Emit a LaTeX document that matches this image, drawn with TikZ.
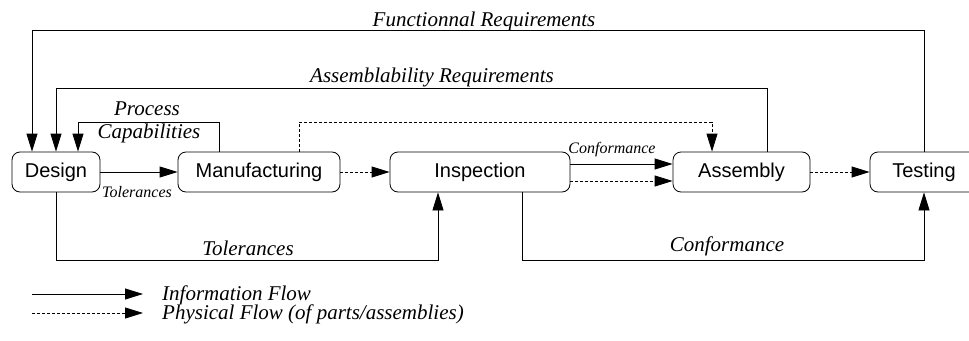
\documentclass[tikz,border=0pt]{standalone}
\usepackage{fontspec}
\setmainfont{Liberation Serif}
\setsansfont{Liberation Sans}
\usepackage{tikz}
\usetikzlibrary{arrows.meta}

\begin{document}
\begin{tikzpicture}[x=1pt,y=-1pt]
\tikzstyle{myBlock} =
[
	shape			= rectangle,		% shape
	rounded corners	= 8pt,				% roundness of the corners
	minimum height	= 40pt,				% height of the block
	line width		= 0.8pt,			% thickness of the border
	draw			= black,			% colour of the border
	font			= \fontsize{20}{23}\sffamily,	% used font
	inner sep		= 0pt				% text and borders
]
\tikzstyle{infoFlow} = [-{Triangle[length=18pt,width=11pt]}, line width = 0.8pt]
\tikzstyle{physFlow} = [infoFlow, dash pattern = on 3pt off 2pt]
\tikzstyle{myLabel} = [font = \fontsize{21}{24}\selectfont\itshape, inner sep = 0pt, anchor = base]
\tikzstyle{mySmallLabel} = [myLabel, font = \fontsize{16}{19}\selectfont\itshape]
\useasboundingbox (0,0) rectangle (969,340);
\node (design) [myBlock, minimum width = 88pt] at (56,172) {Design};
\node (manuf) [myBlock, minimum width = 162pt] at (259,172) {Manufacturing};
\node (insp) [myBlock, minimum width = 180pt] at (480,172) {Inspection};
\node (asm) [myBlock, minimum width = 137pt] at (741.5,172) {Assembly};
\node (testing) [myBlock, minimum width = 108pt] at (924,172) {Testing};
\coordinate (funcCorner) at (32,30);
\coordinate (assyCorner) at (56,88);
\coordinate (procCorner) at (78,122);
\coordinate (physCorner) at (712,122);
\coordinate (tolCorner) at (438,260);
\coordinate (confCorner) at (924,260);
\draw [infoFlow] (testing.north) |- (funcCorner) -- (funcCorner |- design.north);
\draw [infoFlow] ([xshift=26pt]asm.north) |- (assyCorner) -- (design.north);
\draw [infoFlow] ([xshift=-40pt]manuf.north) |- (procCorner) -- (procCorner |- design.north);
\draw [physFlow] ([xshift=40pt]manuf.north) |- (physCorner) -- (physCorner |- asm.north);
\draw [infoFlow] (design) -- (manuf);
\draw [physFlow] (manuf) -- (insp);
\draw [infoFlow] ([yshift=8pt]insp.east) -- ([yshift=8pt]asm.west);
\draw [physFlow] ([yshift=-9pt]insp.east) -- ([yshift=-9pt]asm.west);
\draw [physFlow] (asm) -- (testing);
\draw [infoFlow] (design.south) |- (tolCorner) -- (tolCorner |- insp.south);
\draw [infoFlow] ([xshift=42pt]insp.south) |- (confCorner) -- (testing.south);
\node (funcLabel) [myLabel] at (484,26) {Functionnal Requirements};
\node (assyLabel) [myLabel] at (432,82) {Assemblability Requirements};
\node (procLabel) [myLabel] at (147,115) {Process};
\node (capLabel) [myLabel] at (149,138) {Capabilities};
\node (tolSmall) [mySmallLabel] at (137,197) {Tolerances};
\node (confSmall) [mySmallLabel] at (612,153) {Conformance};
\node (tolLabel) [myLabel] at (248,255) {Tolerances};
\node (confLabel) [myLabel] at (727,251) {Conformance};
% legend
\coordinate (infoStart) at (32,294);
\coordinate (infoEnd) at (143,294);
\coordinate (physStart) at (32,313);
\coordinate (physEnd) at (143,313);
\node (infoText) [myLabel, anchor = base west] at (162,300) {Information Flow};
\node (physText) [myLabel, anchor = base west] at (162,319) {Physical Flow (of parts/assemblies)};
\draw [infoFlow] (infoStart) -- (infoEnd);
\draw [physFlow] (physStart) -- (physEnd);
\end{tikzpicture}
\end{document}
